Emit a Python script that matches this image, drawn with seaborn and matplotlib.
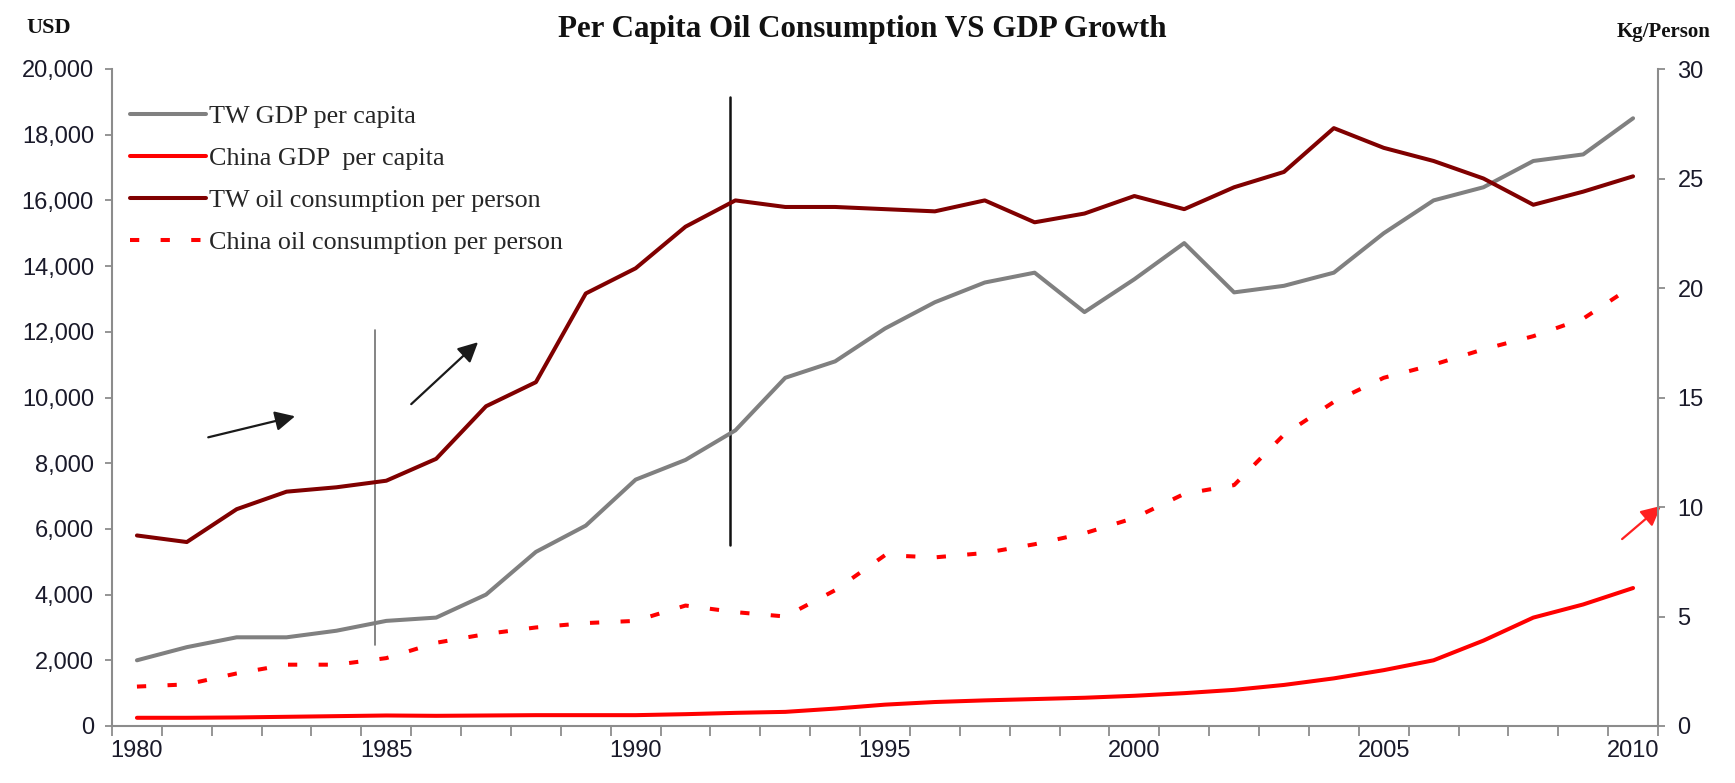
import matplotlib
matplotlib.use("Agg")
import matplotlib.pyplot as plt
import matplotlib.ticker as mticker
from matplotlib import font_manager
import seaborn as sns
import pandas as pd
import numpy as np

years = list(range(1980, 2011))
tw_gdp = [2000, 2400, 2700, 2700, 2900, 3200, 3300, 4000, 5300, 6100,
          7500, 8100, 9000, 10600, 11100, 12100, 12900, 13500, 13800, 12600,
          13600, 14700, 13200, 13400, 13800, 15000, 16000, 16400, 17200, 17400,
          18500]
cn_gdp = [250, 250, 260, 280, 300, 320, 310, 320, 330, 330,
          330, 360, 400, 430, 530, 650, 730, 780, 820, 860,
          920, 1000, 1100, 1250, 1450, 1700, 2000, 2600, 3300, 3700,
          4200]
tw_oil = [8.7, 8.4, 9.9, 10.7, 10.9, 11.2, 12.2, 14.6, 15.7, 19.75,
          20.9, 22.8, 24.0, 23.7, 23.7, 23.6, 23.5, 24.0, 23.0, 23.4,
          24.2, 23.6, 24.6, 25.3, 27.3, 26.4, 25.8, 25.0, 23.8, 24.4,
          25.1]
cn_oil = [1.8, 1.9, 2.4, 2.8, 2.8, 3.1, 3.8, 4.2, 4.5, 4.7,
          4.8, 5.5, 5.2, 5.0, 6.2, 7.8, 7.7, 7.9, 8.3, 8.8,
          9.5, 10.6, 11.0, 13.3, 14.8, 15.9, 16.5, 17.2, 17.8, 18.6,
          20.1]
labels = ["TW GDP per capita", "China GDP  per capita",
          "TW oil consumption per person", "China oil consumption per person"]
x_labels = ["1980", "1985", "1990", "1995", "2000", "2005", "2010"]

df = pd.DataFrame({"year": years, "tw_gdp": tw_gdp, "cn_gdp": cn_gdp,
                   "tw_oil": tw_oil, "cn_oil": cn_oil})

sns.set_theme(style="white")
installed = {f.name for f in font_manager.fontManager.ttflist}
if "Liberation Sans Narrow" in installed:
    tick_family, tick_size = "Liberation Sans Narrow", 20
else:
    tick_family, tick_size = "Liberation Sans", 17
plt.rcParams["font.family"] = [tick_family, "Liberation Sans", "DejaVu Sans"]

fig = plt.figure(figsize=(17.35, 7.83), dpi=100)
ax = fig.add_axes([112/1735, 1-726/783, (1658-112)/1735, (726-69)/783])
ax2 = ax.twinx()

LW = 2.9
sns.lineplot(data=df, x="year", y="tw_gdp", ax=ax, color="#808080", lw=LW, label=labels[0], legend=False)
sns.lineplot(data=df, x="year", y="cn_gdp", ax=ax, color="#ff0000", lw=LW, label=labels[1], legend=False)
sns.lineplot(data=df, x="year", y="tw_oil", ax=ax2, color="#800000", lw=LW, label=labels[2], legend=False)
sns.lineplot(data=df, x="year", y="cn_oil", ax=ax2, color="#ff0000", lw=LW, label=labels[3], legend=False,
             linestyle=(0, (2.3, 5.3)))

ax.set_xlim(1979.5, 2010.5)
ax.set_ylim(0, 20000)
ax2.set_ylim(0, 30)
ax.set_xlabel("")
ax.set_ylabel("")
ax2.set_ylabel("")

ax.set_xticks([int(v) for v in x_labels])
ax.set_xticklabels(x_labels)
ax.set_xticks(np.arange(1979.5, 2011, 1.0), minor=True)
ax.yaxis.set_major_locator(mticker.MultipleLocator(2000))
ax.yaxis.set_major_formatter(mticker.FuncFormatter(lambda v, p: f"{int(v):,}"))
ax2.yaxis.set_major_locator(mticker.MultipleLocator(5))

tick_color = "#1a1a2a"
spine_color = "#8c8c8c"
for a in (ax, ax2):
    for s in a.spines.values():
        s.set_color(spine_color)
        s.set_linewidth(1.5)
    a.spines["top"].set_visible(False)
ax.spines["right"].set_visible(False)
ax2.spines["left"].set_visible(False)
ax2.spines["bottom"].set_visible(False)

ax.tick_params(axis="x", which="major", length=0, pad=10, labelsize=tick_size, labelcolor=tick_color)
ax.tick_params(axis="x", which="minor", length=7, width=1.3, color=spine_color, direction="out", bottom=True)
ax.tick_params(axis="y", which="major", length=5, width=1.3, color=spine_color, direction="out",
               left=True, pad=8, labelsize=tick_size, labelcolor=tick_color)
ax2.tick_params(axis="y", which="major", length=5, width=1.3, color=spine_color, direction="out",
                right=True, pad=9, labelsize=tick_size, labelcolor=tick_color)
ax.grid(False)
ax2.grid(False)

# legend
h1, l1 = ax.get_legend_handles_labels()
h2, l2 = ax2.get_legend_handles_labels()
ax2.legend(h1 + h2, l1 + l2, loc="upper left", bbox_to_anchor=(0.005, 0.962),
           frameon=False, borderaxespad=0, handlelength=2.9, handletextpad=0.12,
           labelspacing=0.72, prop={"family": "Liberation Serif", "size": 18.8})

# annotations (vertical markers and trend arrows)
ax.plot([1984.77, 1984.77], [2458, 12054], color="#707070", lw=1.2, zorder=1)
ax.plot([1991.89, 1991.89], [5522, 19158], color="#111111", lw=1.8, zorder=1)
arrow_k = dict(arrowstyle="-|>,head_length=1.0,head_width=0.5", color="#1a1a1a", lw=1.6, shrinkA=0, shrinkB=0)
ax.annotate("", xy=(1983.17, 9428), xytext=(1981.43, 8788), arrowprops=arrow_k)
ax.annotate("", xy=(1986.84, 11684), xytext=(1985.5, 9798), arrowprops=arrow_k)
arrow_r = dict(arrowstyle="-|>,head_length=1.0,head_width=0.5", color="#ff2020", lw=1.6, shrinkA=0, shrinkB=0)
ax.annotate("", xy=(2010.56, 6700), xytext=(2009.78, 5690), arrowprops=arrow_r, annotation_clip=False)

fig.text(862/1735, 1-29/783, "Per Capita Oil Consumption VS GDP Growth", ha="center", va="center",
         fontsize=22.3, fontweight="bold", family="Liberation Serif", color="#111111")
fig.text(49/1735, 1-28/783, "USD", ha="center", va="center", fontsize=16, fontweight="bold",
         family="Liberation Serif", color="#111111")
fig.text(1664/1735, 1-32/783, "Kg/Person", ha="center", va="center", fontsize=15, fontweight="bold",
         family="Liberation Serif", color="#111111")

fig.savefig("out.png", dpi=100, facecolor="white")
